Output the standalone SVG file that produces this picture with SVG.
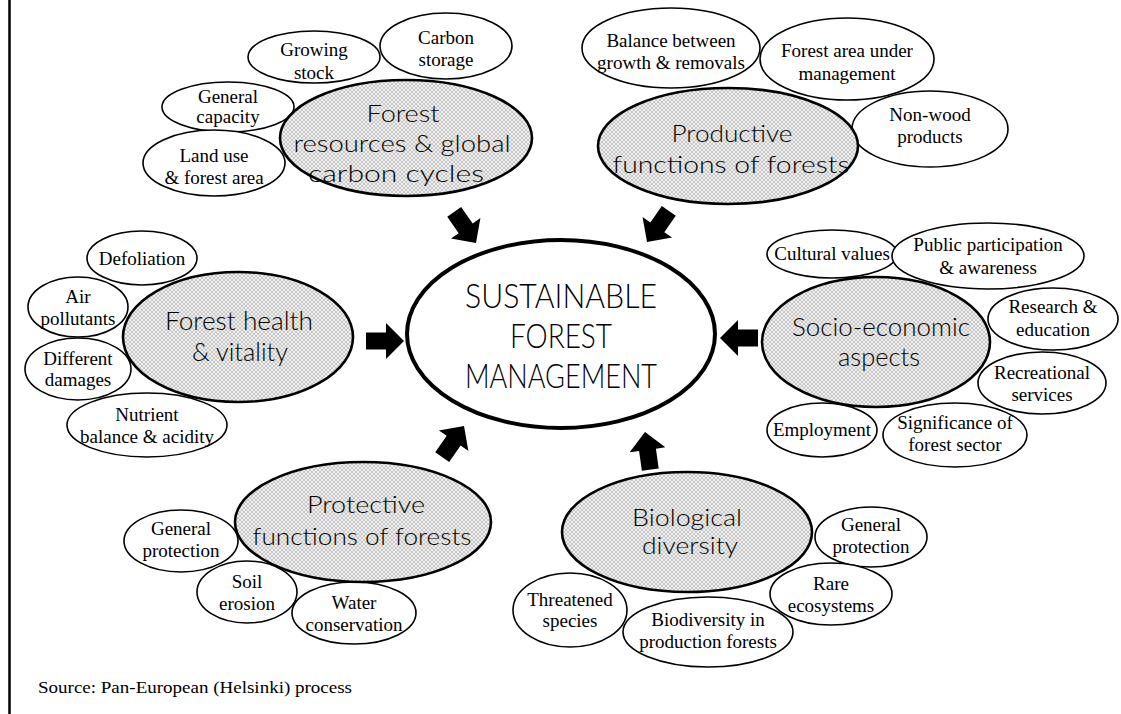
<svg xmlns="http://www.w3.org/2000/svg" width="1121" height="714" viewBox="0 0 1121 714">
<style>
.sm{fill:#fff;stroke:#000;stroke-width:1.6}
.cat{fill:url(#hatch);stroke:#000;stroke-width:2.6}
.st{font-family:"Liberation Serif","Times New Roman",serif;font-size:19px;fill:#000;text-anchor:middle}
.ct{font-family:Lato,"DejaVu Sans",sans-serif;font-weight:300;fill:#000;text-anchor:middle}
.arrow{fill:#000}
</style>
<defs>
<pattern id="hatch" width="4" height="4" patternUnits="userSpaceOnUse">
<rect width="4" height="4" fill="#f2f2f2"/>
<path d="M0,0 L4,4 M4,0 L0,4" stroke="#a6a6a6" stroke-width="0.6"/>
</pattern>
<path id="arr" d="M0,0 L-18,-18 L-18,-8.5 L-38,-8.5 L-38,8.5 L-18,8.5 L-18,18 Z"/>
</defs>
<rect width="1121" height="714" fill="#fff"/>
<line x1="9.5" y1="0" x2="9.5" y2="714" stroke="#000" stroke-width="2.5"/>

<g id="connectors" class="arrow">
<use href="#arr" transform="translate(476,243) rotate(55)"/>
<use href="#arr" transform="translate(647,242) rotate(125)"/>
<use href="#arr" transform="translate(404,341)"/>
<use href="#arr" transform="translate(720,338) rotate(180)"/>
<use href="#arr" transform="translate(464,426) rotate(-55)"/>
<use href="#arr" transform="translate(645,432) rotate(-98)"/>
</g>

<g id="sfm">
<ellipse cx="561" cy="334" rx="154" ry="94" fill="#fff" stroke="#000" stroke-width="4"/>
<text class="ct" font-size="33" x="561" y="308" textLength="192" lengthAdjust="spacingAndGlyphs">SUSTAINABLE</text>
<text class="ct" font-size="33" x="561" y="348" textLength="102" lengthAdjust="spacingAndGlyphs">FOREST</text>
<text class="ct" font-size="33" x="561" y="388" textLength="192" lengthAdjust="spacingAndGlyphs">MANAGEMENT</text>
</g>

<g id="forest-resources">
<ellipse class="sm" cx="314" cy="57" rx="66" ry="26"/>
<text class="st" x="314" y="56">Growing</text><text class="st" x="314" y="79">stock</text>
<ellipse class="sm" cx="446" cy="46" rx="66" ry="33"/>
<text class="st" x="446" y="44">Carbon</text><text class="st" x="446" y="66">storage</text>
<ellipse class="sm" cx="228" cy="107" rx="66" ry="25"/>
<text class="st" x="228" y="103">General</text><text class="st" x="228" y="123">capacity</text>
<ellipse class="sm" cx="214" cy="163" rx="71" ry="33"/>
<text class="st" x="214" y="162">Land use</text><text class="st" x="214" y="184">&amp; forest area</text>
<ellipse class="cat" cx="406" cy="138" rx="126" ry="58"/>
<text class="ct" font-size="23" x="403" y="122" textLength="73" lengthAdjust="spacingAndGlyphs">Forest</text>
<text class="ct" font-size="23" x="402" y="152" textLength="217" lengthAdjust="spacingAndGlyphs">resources &amp; global</text>
<text class="ct" font-size="23" x="396" y="182" textLength="176" lengthAdjust="spacingAndGlyphs">carbon cycles</text>
</g>

<g id="productive">
<ellipse class="sm" cx="671" cy="48" rx="89" ry="40"/>
<text class="st" x="671" y="47">Balance between</text><text class="st" x="671" y="69">growth &amp; removals</text>
<ellipse class="sm" cx="847" cy="59" rx="87" ry="41"/>
<text class="st" x="847" y="57">Forest area under</text><text class="st" x="847" y="80">management</text>
<ellipse class="sm" cx="930" cy="129" rx="78" ry="38"/>
<text class="st" x="930" y="121">Non-wood</text><text class="st" x="930" y="143">products</text>
<ellipse class="cat" cx="728" cy="146" rx="130" ry="58"/>
<text class="ct" font-size="24" x="732" y="142" textLength="121" lengthAdjust="spacingAndGlyphs">Productive</text>
<text class="ct" font-size="24" x="731" y="173" textLength="237" lengthAdjust="spacingAndGlyphs">functions of forests</text>
</g>

<g id="forest-health">
<ellipse class="sm" cx="142" cy="258" rx="55" ry="27"/>
<text class="st" x="142" y="265">Defoliation</text>
<ellipse class="sm" cx="78" cy="307" rx="50" ry="30"/>
<text class="st" x="78" y="303">Air</text><text class="st" x="78" y="325">pollutants</text>
<ellipse class="sm" cx="78" cy="369" rx="53" ry="31"/>
<text class="st" x="78" y="365">Different</text><text class="st" x="78" y="386">damages</text>
<ellipse class="sm" cx="147" cy="425" rx="80" ry="32"/>
<text class="st" x="147" y="421">Nutrient</text><text class="st" x="147" y="443">balance &amp; acidity</text>
<ellipse class="cat" cx="238" cy="337" rx="115" ry="65"/>
<text class="ct" font-size="26" x="239" y="330" textLength="148" lengthAdjust="spacingAndGlyphs">Forest health</text>
<text class="ct" font-size="26" x="240" y="361" textLength="96" lengthAdjust="spacingAndGlyphs">&amp; vitality</text>
</g>

<g id="socio-economic">
<ellipse class="sm" cx="832" cy="254" rx="65" ry="24"/>
<text class="st" x="832" y="260">Cultural values</text>
<ellipse class="sm" cx="988" cy="256" rx="96" ry="33"/>
<text class="st" x="988" y="251">Public participation</text><text class="st" x="988" y="274">&amp; awareness</text>
<ellipse class="sm" cx="1053" cy="319" rx="65" ry="31"/>
<text class="st" x="1053" y="313">Research &amp;</text><text class="st" x="1053" y="336">education</text>
<ellipse class="sm" cx="1042" cy="383" rx="64" ry="31"/>
<text class="st" x="1042" y="379">Recreational</text><text class="st" x="1042" y="401">services</text>
<ellipse class="sm" cx="822" cy="430" rx="55" ry="27"/>
<text class="st" x="822" y="436">Employment</text>
<ellipse class="sm" cx="955" cy="435" rx="72" ry="32"/>
<text class="st" x="955" y="429">Significance of</text><text class="st" x="955" y="451">forest sector</text>
<ellipse class="cat" cx="876" cy="342" rx="114" ry="65"/>
<text class="ct" font-size="25" x="881" y="336" textLength="178" lengthAdjust="spacingAndGlyphs">Socio-economic</text>
<text class="ct" font-size="25" x="879" y="366" textLength="82" lengthAdjust="spacingAndGlyphs">aspects</text>
</g>

<g id="protective">
<ellipse class="sm" cx="181" cy="541" rx="57" ry="31"/>
<text class="st" x="181" y="535">General</text><text class="st" x="181" y="557">protection</text>
<ellipse class="sm" cx="247" cy="592" rx="50" ry="31"/>
<text class="st" x="247" y="588">Soil</text><text class="st" x="247" y="610">erosion</text>
<ellipse class="sm" cx="354" cy="613" rx="62" ry="31"/>
<text class="st" x="354" y="609">Water</text><text class="st" x="354" y="631">conservation</text>
<ellipse class="cat" cx="363" cy="522" rx="128" ry="60"/>
<text class="ct" font-size="24" x="366" y="513" textLength="118" lengthAdjust="spacingAndGlyphs">Protective</text>
<text class="ct" font-size="24" x="362" y="545" textLength="219" lengthAdjust="spacingAndGlyphs">functions of forests</text>
</g>

<g id="biological">
<ellipse class="sm" cx="871" cy="537" rx="56" ry="30"/>
<text class="st" x="871" y="531">General</text><text class="st" x="871" y="553">protection</text>
<ellipse class="sm" cx="831" cy="594" rx="61" ry="31"/>
<text class="st" x="831" y="590">Rare</text><text class="st" x="831" y="612">ecosystems</text>
<ellipse class="sm" cx="570" cy="610" rx="57" ry="37"/>
<text class="st" x="570" y="606">Threatened</text><text class="st" x="570" y="627">species</text>
<ellipse class="sm" cx="708" cy="632" rx="85" ry="35"/>
<text class="st" x="708" y="626">Biodiversity in</text><text class="st" x="708" y="648">production forests</text>
<ellipse class="cat" cx="687" cy="532" rx="125" ry="60"/>
<text class="ct" font-size="23" x="687" y="526" textLength="110" lengthAdjust="spacingAndGlyphs">Biological</text>
<text class="ct" font-size="23" x="690" y="554" textLength="96" lengthAdjust="spacingAndGlyphs">diversity</text>
</g>

<text id="source" x="38" y="693" font-family="'Liberation Serif','Times New Roman',serif" font-size="17" textLength="314" lengthAdjust="spacingAndGlyphs">Source: Pan-European (Helsinki) process</text>
</svg>
